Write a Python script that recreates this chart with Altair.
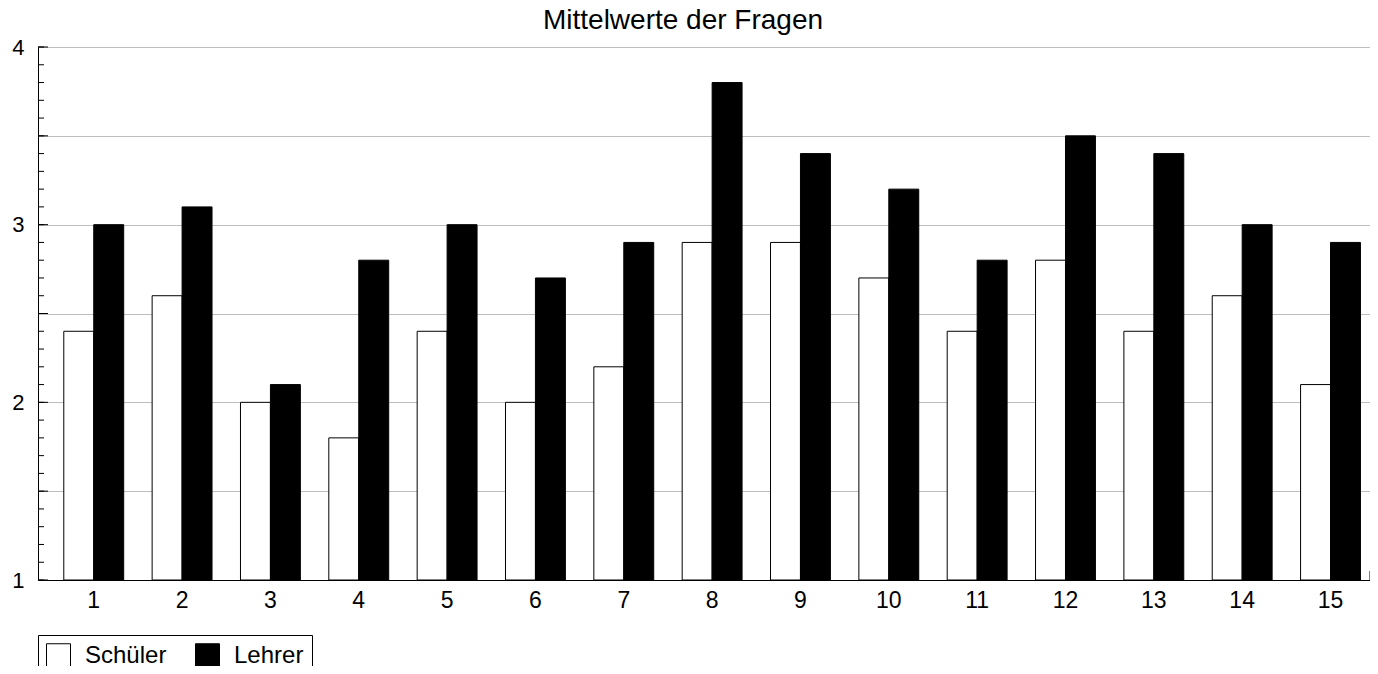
import altair as alt
import pandas as pd

fragen = [str(i) for i in range(1, 16)]
schueler = [2.4, 2.6, 2.0, 1.8, 2.4, 2.0, 2.2, 2.9, 2.9, 2.7, 2.4, 2.8, 2.4, 2.6, 2.1]
lehrer = [3.0, 3.1, 2.1, 2.8, 3.0, 2.7, 2.9, 3.8, 3.4, 3.2, 2.8, 3.5, 3.4, 3.0, 2.9]
gruppen = ["Schüler", "Lehrer"]
farben = ["white", "black"]
y_grid = [1, 1.5, 2, 2.5, 3, 3.5, 4]
y_minor = [round(1 + 0.1 * i, 1) for i in range(31)]

W, H = 1332, 533
FONT = "Liberation Sans"

rows = []
for f, s, l in zip(fragen, schueler, lehrer):
    rows.append({"Frage": f, "Gruppe": gruppen[0], "Wert": s})
    rows.append({"Frage": f, "Gruppe": gruppen[1], "Wert": l})
df = pd.DataFrame(rows)

yscale = alt.Scale(domain=[1, 4], zero=False, nice=False)

bars = alt.Chart(df).mark_bar(stroke="black", strokeWidth=1).encode(
    x=alt.X("Frage:N", sort=fragen,
            scale=alt.Scale(paddingInner=0.322, paddingOuter=0.2, align=0.73),
            axis=alt.Axis(title=None, labelAngle=0, ticks=False, domainColor="black",
                          labelFontSize=23, labelPadding=9, labelColor="black",
                          labelFont=FONT, grid=False)),
    xOffset=alt.XOffset("Gruppe:N", sort=gruppen,
                        scale=alt.Scale(paddingInner=0, paddingOuter=0)),
    y=alt.Y("Wert:Q", scale=yscale,
            axis=alt.Axis(title=None, values=y_grid, ticks=False, domainColor="black",
                          grid=True, gridColor="#bdbdbd", gridWidth=1,
                          labelExpr="datum.value % 1 == 0 ? format(datum.value, 'd') : ''",
                          labelFontSize=22, labelPadding=14, labelColor="black",
                          labelFont=FONT)),
    y2=alt.datum(1),
    color=alt.Color("Gruppe:N", sort=gruppen,
                    scale=alt.Scale(domain=gruppen, range=farben),
                    legend=alt.Legend(title=None, orient="none", legendX=0, legendY=588,
                                      direction="horizontal", strokeColor="black",
                                      padding=8, symbolType="square", symbolSize=576,
                                      symbolStrokeColor="black", symbolStrokeWidth=1,
                                      labelFontSize=24, labelFont=FONT, labelColor="black",
                                      labelOffset=14, columnPadding=26)),
)

minor = alt.Chart(pd.DataFrame({"v": y_minor})).mark_rule(color="black").encode(
    y=alt.Y("v:Q", scale=yscale),
    x=alt.value(0), x2=alt.value(6),
)
major = alt.Chart(pd.DataFrame({"v": y_grid})).mark_rule(color="black").encode(
    y=alt.Y("v:Q", scale=yscale),
    x=alt.value(0), x2=alt.value(10),
)
endtick = alt.Chart(pd.DataFrame({"a": [0]})).mark_rule(color="black").encode(
    x=alt.value(W), y=alt.value(H), y2=alt.value(H - 9),
)

chart = alt.layer(bars, minor, major, endtick).properties(
    width=W, height=H,
    title=alt.TitleParams("Mittelwerte der Fragen", fontSize=28, font=FONT,
                          fontWeight="normal", color="black", offset=1,
                          anchor="middle", dx=-21),
    autosize=alt.AutoSizeParams(type="none"),
    padding={"left": 30, "top": 39, "right": 0, "bottom": 86},
).configure_view(stroke=None).configure_axis(domainWidth=1)

chart.save("out.html", embed_options={"renderer": "svg", "actions": False})
